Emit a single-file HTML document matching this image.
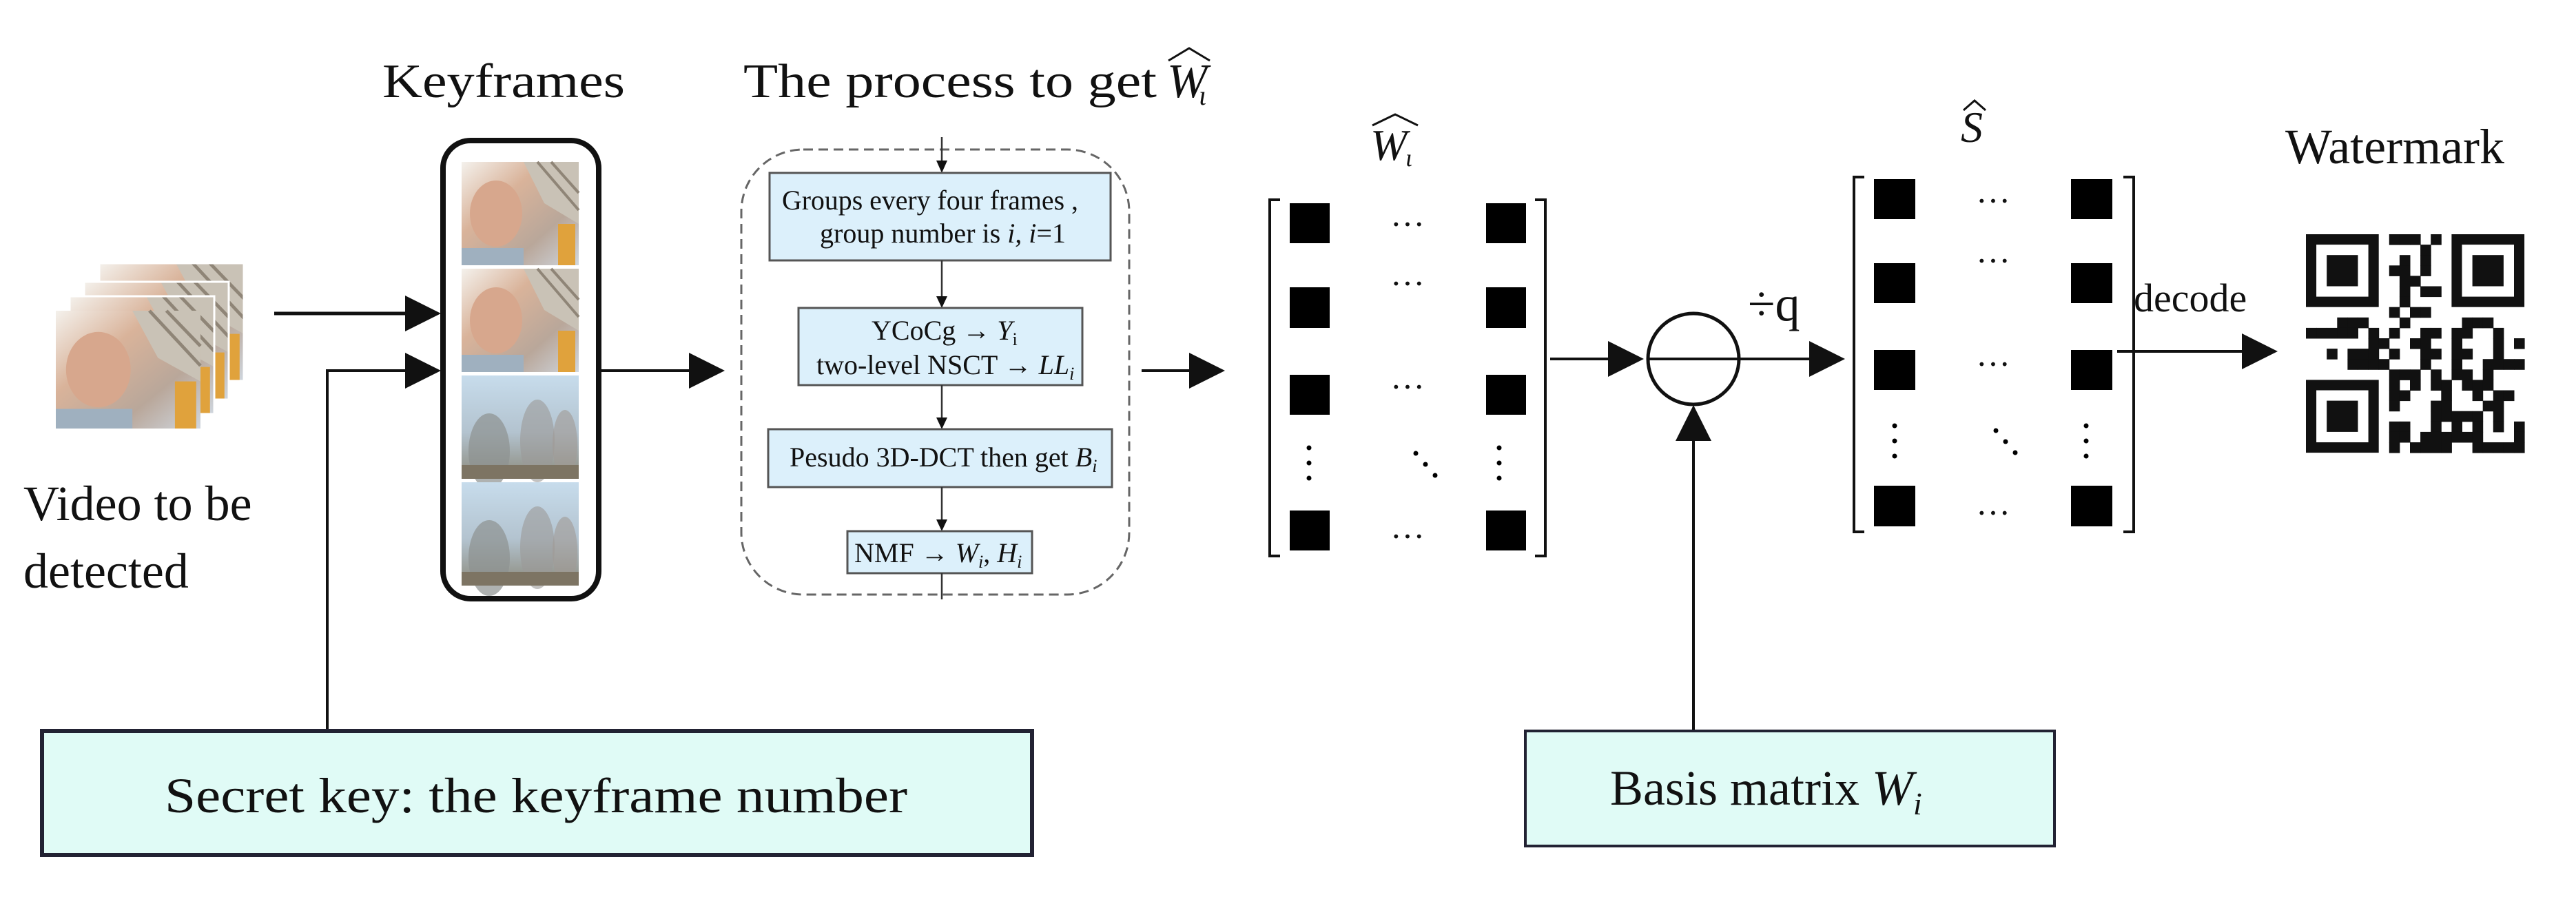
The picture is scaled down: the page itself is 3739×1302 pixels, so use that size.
<!DOCTYPE html>
<html><head><meta charset="utf-8"><style>
html,body{margin:0;padding:0;background:#fff;}
svg{display:block;}
text{font-family:"Liberation Serif",serif;fill:#111;}
</style></head><body>
<svg width="3739" height="1302" viewBox="0 0 3739 1302" xmlns="http://www.w3.org/2000/svg">
<defs>
<linearGradient id="face" x1="0" y1="0" x2="1" y2="1">
<stop offset="0" stop-color="#f4f1ec"/><stop offset="0.35" stop-color="#d9b39a"/><stop offset="0.7" stop-color="#b9a79a"/><stop offset="1" stop-color="#cfd6de"/></linearGradient>
<linearGradient id="sky" x1="0" y1="0" x2="0" y2="1">
<stop offset="0" stop-color="#c7dcec"/><stop offset="0.55" stop-color="#b3c3cf"/><stop offset="1" stop-color="#8c8a7c"/></linearGradient>
<g id="facefr">
<rect width="170" height="150" fill="url(#face)"/>
<polygon points="90,0 170,0 170,90 120,60" fill="#c9c2b6"/>
<line x1="110" y1="0" x2="170" y2="70" stroke="#8f8577" stroke-width="4"/>
<line x1="130" y1="0" x2="170" y2="45" stroke="#8f8577" stroke-width="4"/>
<ellipse cx="50" cy="75" rx="38" ry="48" fill="#d7a78d"/>
<rect x="140" y="90" width="25" height="60" fill="#e0a23c"/>
<rect x="0" y="125" width="90" height="25" fill="#9fb0bf"/>
</g>
<g id="treefr">
<rect width="170" height="150" fill="url(#sky)"/>
<ellipse cx="40" cy="110" rx="30" ry="55" fill="#8d9190" opacity="0.7"/>
<ellipse cx="110" cy="95" rx="25" ry="60" fill="#9b9a98" opacity="0.6"/>
<ellipse cx="150" cy="100" rx="18" ry="50" fill="#a09a94" opacity="0.6"/>
<rect y="130" width="170" height="20" fill="#7d7463"/>
</g>
<marker id="ah" markerWidth="10" markerHeight="10" refX="10" refY="5" orient="auto" markerUnits="userSpaceOnUse"></marker>
</defs>

<!-- top labels -->
<text x="555" y="141" font-size="70" textLength="352" lengthAdjust="spacingAndGlyphs">Keyframes</text>
<text x="1079" y="141" font-size="70" textLength="600" lengthAdjust="spacingAndGlyphs">The process to get</text>
<text x="1694" y="141" font-size="70" font-style="italic">W</text>
<text x="1740" y="152" font-size="40" font-style="italic">ι</text>
<path d="M1696 88 L1726 70 L1756 88" fill="none" stroke="#111" stroke-width="3"/>

<!-- video stack -->
<g>
<use href="#facefr" transform="translate(144,382) scale(1.235,1.14)"/>
<rect x="144" y="382" width="210" height="171" fill="none" stroke="#fff" stroke-width="3"/>
<use href="#facefr" transform="translate(122,409) scale(1.235,1.14)"/>
<rect x="122" y="409" width="210" height="171" fill="none" stroke="#fff" stroke-width="3"/>
<use href="#facefr" transform="translate(101,430) scale(1.235,1.14)"/>
<rect x="101" y="430" width="210" height="171" fill="none" stroke="#fff" stroke-width="3"/>
<use href="#facefr" transform="translate(81,451) scale(1.235,1.14)"/>
</g>
<text x="34" y="755" font-size="72">Video to be</text>
<text x="34" y="853" font-size="72">detected</text>

<!-- arrows into keyframes -->
<line x1="398" y1="455" x2="592" y2="455" stroke="#111" stroke-width="5"/>
<polygon points="588,429 640,455 588,481" fill="#111"/>
<polyline points="475,1061 475,538 592,538" fill="none" stroke="#111" stroke-width="4"/>
<polygon points="588,512 640,538 588,564" fill="#111"/>

<!-- keyframe box -->
<rect x="643" y="204" width="226" height="665" rx="40" fill="#fff" stroke="#111" stroke-width="8"/>
<use href="#facefr" transform="translate(670,235)"/>
<use href="#facefr" transform="translate(670,390)"/>
<use href="#treefr" transform="translate(670,545)"/>
<use href="#treefr" transform="translate(670,700)"/>

<line x1="870" y1="538" x2="1004" y2="538" stroke="#111" stroke-width="4"/>
<polygon points="1000,512 1052,538 1000,564" fill="#111"/>

<!-- process dashed box -->
<rect x="1076" y="217" width="563" height="646" rx="90" fill="#fff" stroke="#666" stroke-width="3" stroke-dasharray="14,8"/>
<line x1="1367" y1="199" x2="1367" y2="240" stroke="#333" stroke-width="2.5"/>
<polygon points="1359,233 1375,233 1367,251" fill="#111"/>
<rect x="1117" y="251" width="495" height="127" fill="#dcf0fb" stroke="#555" stroke-width="3"/>
<text x="1135" y="304" font-size="40" textLength="430" lengthAdjust="spacingAndGlyphs">Groups every four frames ,</text>
<text x="1190" y="352" font-size="40">group number is <tspan font-style="italic">i, i</tspan>=1</text>
<line x1="1367" y1="378" x2="1367" y2="436" stroke="#333" stroke-width="2.5"/>
<polygon points="1359,430 1375,430 1367,447" fill="#111"/>
<rect x="1159" y="447" width="412" height="112" fill="#dcf0fb" stroke="#555" stroke-width="3"/>
<text x="1265" y="493" font-size="40">YCoCg → <tspan font-style="italic">Y</tspan><tspan font-size="26" dy="8">i</tspan></text>
<text x="1185" y="543" font-size="40">two-level NSCT → <tspan font-style="italic">LL</tspan><tspan font-size="26" dy="8" font-style="italic">i</tspan></text>
<line x1="1367" y1="559" x2="1367" y2="612" stroke="#333" stroke-width="2.5"/>
<polygon points="1359,606 1375,606 1367,623" fill="#111"/>
<rect x="1115" y="623" width="499" height="84" fill="#dcf0fb" stroke="#555" stroke-width="3"/>
<text x="1146" y="677" font-size="40">Pesudo 3D-DCT then get <tspan font-style="italic">B</tspan><tspan font-size="26" dy="8" font-style="italic">i</tspan></text>
<line x1="1367" y1="707" x2="1367" y2="760" stroke="#333" stroke-width="2.5"/>
<polygon points="1359,754 1375,754 1367,771" fill="#111"/>
<rect x="1230" y="771" width="268" height="61" fill="#dcf0fb" stroke="#555" stroke-width="3"/>
<text x="1240" y="816" font-size="40">NMF → <tspan font-style="italic">W</tspan><tspan font-size="26" dy="8" font-style="italic">i</tspan><tspan dy="-8">,  </tspan><tspan font-style="italic">H</tspan><tspan font-size="26" dy="8" font-style="italic">i</tspan></text>
<line x1="1367" y1="832" x2="1367" y2="870" stroke="#333" stroke-width="2.5"/>

<line x1="1657" y1="538" x2="1730" y2="538" stroke="#111" stroke-width="4"/>
<polygon points="1726,512 1778,538 1726,564" fill="#111"/>

<!-- W hat matrix -->
<text x="1989" y="232" font-size="64" font-style="italic">W</text>
<text x="2040" y="241" font-size="36" font-style="italic">ι</text>
<path d="M1992 182 L2025 166 L2058 182" fill="none" stroke="#111" stroke-width="3"/>
<path d="M1858 290 L1843 290 L1843 807 L1858 807" fill="none" stroke="#111" stroke-width="4"/>
<path d="M2228 290 L2243 290 L2243 807 L2228 807" fill="none" stroke="#111" stroke-width="4"/>
<g fill="#000">
<rect x="1872" y="295" width="58" height="58"/><rect x="2157" y="295" width="58" height="58"/>
<rect x="1872" y="417" width="58" height="59"/><rect x="2157" y="417" width="58" height="59"/>
<rect x="1872" y="544" width="58" height="58"/><rect x="2157" y="544" width="58" height="58"/>
<rect x="1872" y="741" width="58" height="58"/><rect x="2157" y="741" width="58" height="58"/>
</g>
<g font-size="50" text-anchor="middle">
<text x="2043" y="342">···</text><text x="2043" y="428">···</text><text x="2043" y="578">···</text><text x="2043" y="795">···</text>
</g>
<g fill="#000">
<circle cx="1900" cy="650" r="3.5"/><circle cx="1900" cy="672" r="3.5"/><circle cx="1900" cy="694" r="3.5"/>
<circle cx="2176" cy="650" r="3.5"/><circle cx="2176" cy="672" r="3.5"/><circle cx="2176" cy="694" r="3.5"/>
<circle cx="2055" cy="658" r="3.5"/><circle cx="2069" cy="674" r="3.5"/><circle cx="2083" cy="690" r="3.5"/>
</g>

<!-- circle operator -->
<line x1="2250" y1="521" x2="2340" y2="521" stroke="#111" stroke-width="4"/>
<polygon points="2334,495 2386,521 2334,547" fill="#111"/>
<circle cx="2458" cy="521" r="66" fill="#fff" stroke="#111" stroke-width="5"/>
<line x1="2392" y1="521" x2="2630" y2="521" stroke="#111" stroke-width="4"/>
<polygon points="2626,495 2678,521 2626,547" fill="#111"/>
<text x="2537" y="465" font-size="72">÷q</text>
<line x1="2458" y1="1061" x2="2458" y2="630" stroke="#111" stroke-width="4"/>
<polygon points="2432,640 2458,588 2484,640" fill="#111"/>

<!-- S hat matrix -->
<text x="2846" y="206" font-size="64" font-style="italic">S</text>
<path d="M2850 160 L2866 146 L2882 160" fill="none" stroke="#111" stroke-width="3"/>
<path d="M2706 257 L2691 257 L2691 772 L2706 772" fill="none" stroke="#111" stroke-width="4"/>
<path d="M3082 257 L3097 257 L3097 772 L3082 772" fill="none" stroke="#111" stroke-width="4"/>
<g fill="#000">
<rect x="2720" y="260" width="60" height="58"/><rect x="3006" y="260" width="60" height="58"/>
<rect x="2720" y="382" width="60" height="58"/><rect x="3006" y="382" width="60" height="58"/>
<rect x="2720" y="508" width="60" height="58"/><rect x="3006" y="508" width="60" height="58"/>
<rect x="2720" y="705" width="60" height="59"/><rect x="3006" y="705" width="60" height="59"/>
</g>
<g font-size="50" text-anchor="middle">
<text x="2893" y="308">···</text><text x="2893" y="395">···</text><text x="2893" y="545">···</text><text x="2893" y="761">···</text>
</g>
<g fill="#000">
<circle cx="2750" cy="618" r="3.5"/><circle cx="2750" cy="640" r="3.5"/><circle cx="2750" cy="662" r="3.5"/>
<circle cx="3028" cy="618" r="3.5"/><circle cx="3028" cy="640" r="3.5"/><circle cx="3028" cy="662" r="3.5"/>
<circle cx="2897" cy="625" r="3.5"/><circle cx="2911" cy="641" r="3.5"/><circle cx="2925" cy="657" r="3.5"/>
</g>

<text x="3097" y="452" font-size="58">decode</text>
<line x1="3073" y1="510" x2="3258" y2="510" stroke="#111" stroke-width="4"/>
<polygon points="3254,484 3306,510 3254,536" fill="#111"/>
<text x="3317" y="237" font-size="72">Watermark</text>

<!-- QR -->
<g id="qr" transform="translate(3347,340)"></g>

<!-- bottom boxes -->
<rect x="61" y="1061" width="1437" height="180" fill="#e0fbf6" stroke="#223" stroke-width="6"/>
<text x="239" y="1179" font-size="72" textLength="1078" lengthAdjust="spacingAndGlyphs">Secret key: the keyframe number</text>
<rect x="2214" y="1061" width="768" height="167" fill="#e0fbf6" stroke="#223" stroke-width="4"/>
<text x="2337" y="1168" font-size="72">Basis matrix  <tspan font-style="italic">W</tspan><tspan font-style="italic" font-size="46" dy="14">i</tspan></text>
</svg>
<script>
(function(){
var g=document.getElementById('qr');var N=21,s=15.1,NS='http://www.w3.org/2000/svg';
var seed=12345;function r(){seed=(seed*1103515245+12345)&0x7fffffff;return seed/0x7fffffff;}
function finder(x,y){return [[x,y,7,7,'#111'],[x+1,y+1,5,5,'#fff'],[x+2,y+2,3,3,'#111']];}
function inF(i,j){return (i<8&&j<8)||(i>=N-8&&j<8)||(i<8&&j>=N-8);}
var bg=document.createElementNS(NS,'rect');bg.setAttribute('width',N*s);bg.setAttribute('height',N*s);bg.setAttribute('fill','#fff');g.appendChild(bg);
for(var i=0;i<N;i++)for(var j=0;j<N;j++){if(inF(i,j))continue;if(r()<0.5){var e=document.createElementNS(NS,'rect');e.setAttribute('x',i*s);e.setAttribute('y',j*s);e.setAttribute('width',s+0.5);e.setAttribute('height',s+0.5);e.setAttribute('fill','#111');g.appendChild(e);}}
[[0,0],[N-7,0],[0,N-7]].forEach(function(p){finder(p[0],p[1]).forEach(function(f){var e=document.createElementNS(NS,'rect');e.setAttribute('x',f[0]*s);e.setAttribute('y',f[1]*s);e.setAttribute('width',f[2]*s);e.setAttribute('height',f[3]*s);e.setAttribute('fill',f[4]);g.appendChild(e);});});
})();
</script>
</body></html>
